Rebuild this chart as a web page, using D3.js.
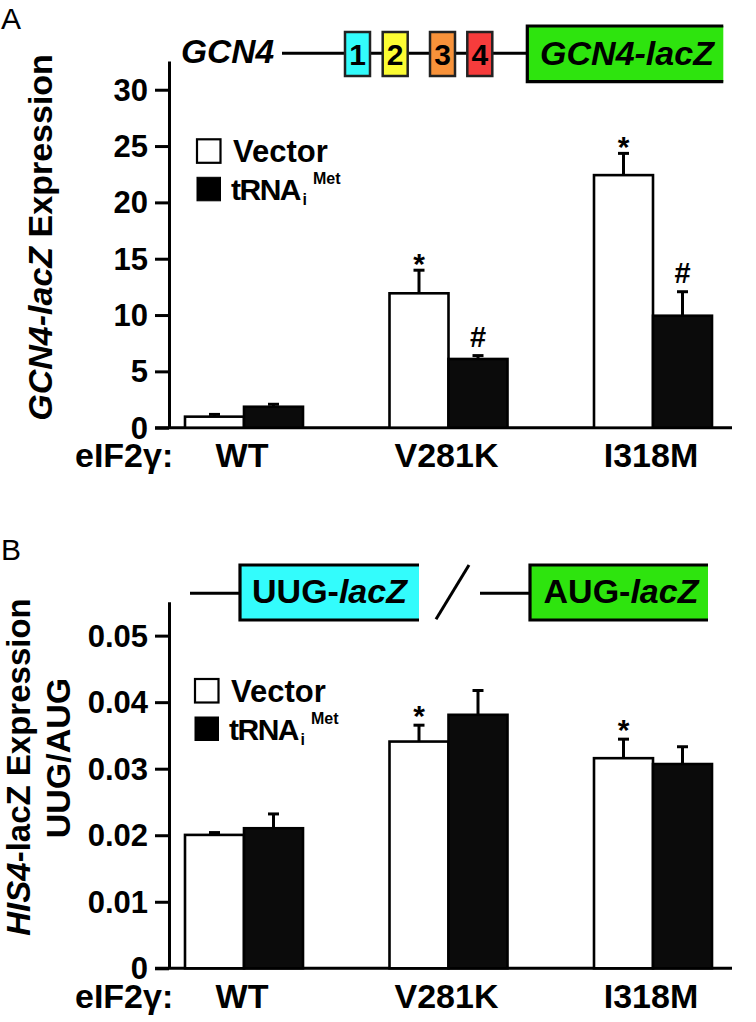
<!DOCTYPE html>
<html><head><meta charset="utf-8">
<script src="https://cdn.jsdelivr.net/npm/d3@7"></script>
<style>
body{margin:0;background:#fff}
svg{display:block}
text{font-family:"Liberation Sans",Arial,Helvetica,sans-serif;font-weight:bold;fill:#000}
</style>
</head><body><svg width="756" height="1022"></svg>
<script>
// ---------- data ----------
const categories = ["WT", "V281K", "I318M"];
const series = ["Vector", "tRNAi"];
const gcn4Vector    = [0.98, 11.93, 22.42];
const gcn4VectorErr = [0.20, 2.05, 1.93];
const gcn4Trna      = [1.86, 6.10, 9.94];
const gcn4TrnaErr   = [0.22, 0.30, 2.13];
const gcn4Marks     = [["", ""], ["*", "#"], ["*", "#"]];
const gcn4Ticks     = [0, 5, 10, 15, 20, 25, 30];
const his4Vector    = [0.02005, 0.03408, 0.03158];
const his4VectorErr = [0.00035, 0.00246, 0.00286];
const his4Trna      = [0.02105, 0.03810, 0.03070];
const his4TrnaErr   = [0.00215, 0.00365, 0.00260];
const his4Marks     = [["", ""], ["*", ""], ["*", ""]];
const his4Ticks     = [0, 0.01, 0.02, 0.03, 0.04, 0.05];
const uorfLabels    = ["1", "2", "3", "4"];
const uorfColors    = ["#33fcfc", "#fcfc33", "#f8923a", "#f63c3c"];

const svg = d3.select("svg");
const CYAN = "#33fcfc", GREEN = "#2ee40e";

function drawPanel(cfg) {
  const g = svg.append("g");
  const y = d3.scaleLinear().domain([0, cfg.yMax]).range([cfg.base, cfg.top]);
  const x0 = d3.scaleBand().domain(categories).range([141.75, 755.25]);
  const bw = 59;
  const x1 = d3.scaleBand().domain(series).range([x0.bandwidth() / 2 - bw, x0.bandwidth() / 2 + bw]);

  // y axis
  const ax = g.append("g").attr("transform", `translate(169,0)`)
    .call(d3.axisLeft(y).tickValues(cfg.ticks).tickSize(14).tickSizeOuter(0).tickPadding(7)
      .tickFormat(cfg.fmt));
  ax.select(".domain").attr("stroke", "#000").attr("stroke-width", 3);
  ax.selectAll(".tick line").attr("stroke", "#000").attr("stroke-width", 3);
  ax.selectAll(".tick text").style("font-size", "31px").style("font-family", '"Liberation Sans",Arial,sans-serif')
    .style("font-weight", "bold").attr("fill", "#000").attr("dy", "0.34em");

  // x axis baseline
  g.append("line").attr("x1", 155).attr("x2", 732).attr("y1", y(0)).attr("y2", y(0))
    .attr("stroke", "#000").attr("stroke-width", 3);

  const rows = categories.map((c, i) => ({
    c, i,
    vals: [cfg.v[i], cfg.t[i]], errs: [cfg.ve[i], cfg.te[i]], marks: cfg.marks[i]
  }));
  rows.forEach(r => {
    series.forEach((s, k) => {
      const xl = x0(r.c) + x1(s), cx = xl + bw / 2;
      const v = r.vals[k], e = r.errs[k];
      g.append("line").attr("x1", cx).attr("x2", cx).attr("y1", y(v)).attr("y2", y(v + e))
        .attr("stroke", "#000").attr("stroke-width", 3);
      g.append("line").attr("x1", cx - 5.5).attr("x2", cx + 5.5).attr("y1", y(v + e)).attr("y2", y(v + e))
        .attr("stroke", "#000").attr("stroke-width", 3);
      g.append("rect").attr("x", xl).attr("y", y(v)).attr("width", bw).attr("height", y(0) - y(v))
        .attr("fill", k === 0 ? "#fff" : "#0b0b0b").attr("stroke", "#000").attr("stroke-width", 2.6);
      const m = r.marks[k];
      if (m) {
        g.append("text").attr("x", cx).attr("y", y(v + e) + (m === "*" ? cfg.starDy : -9))
          .attr("text-anchor", "middle").style("font-size", m === "*" ? "30px" : "29px").text(m);
      }
    });
    g.append("text").attr("x", x0(r.c) + x0.bandwidth() / 2 - 2).attr("y", y(0) + 39.5)
      .attr("text-anchor", "middle").style("font-size", "34px").text(r.c);
  });
  g.append("text").attr("x", 75).attr("y", y(0) + 39.5).style("font-size", "34px").text("eIF2γ:");

  // legend
  const L = cfg.legend;
  g.append("rect").attr("x", L.x).attr("y", L.y).attr("width", 23.5).attr("height", 23.5)
    .attr("fill", "#fff").attr("stroke", "#000").attr("stroke-width", 2.2);
  g.append("text").attr("x", L.x + 36).attr("y", L.y + 23).style("font-size", "31px").text("Vector");
  g.append("rect").attr("x", L.x).attr("y", L.y + 38).attr("width", 23.5).attr("height", 23.5)
    .attr("fill", "#000").attr("stroke", "#000").attr("stroke-width", 1);
  const tr = g.append("text").attr("x", L.x + 34).attr("y", L.y + 61).style("font-size", "30px");
  tr.append("tspan").style("letter-spacing", "-1.5px").text("tRNA");
  tr.append("tspan").attr("dy", 5).attr("dx", 2.5).style("font-size", "16px").text("i");
  tr.append("tspan").attr("dy", -21).attr("dx", 6).style("font-size", "16px").text("Met");
  return { g, y };
}

// ---------- Panel A ----------
svg.append("text").attr("x", 1).attr("y", 28.5).style("font-size", "30px").style("font-weight", "normal").text("A");
drawPanel({
  top: 61, base: 427.7, yMax: 32.55, ticks: gcn4Ticks, fmt: d3.format("d"),
  v: gcn4Vector, ve: gcn4VectorErr, t: gcn4Trna, te: gcn4TrnaErr, marks: gcn4Marks, starDy: 4,
  legend: { x: 197, y: 139.3 }
});
const tA = svg.append("text").attr("transform", "translate(52,237.4) rotate(-90)")
  .attr("text-anchor", "middle").style("font-size", "34px");
tA.append("tspan").style("font-style", "italic").text("GCN4-lacZ");
tA.append("tspan").text(" Expression");

// GCN4 diagram
svg.append("text").attr("x", 181).attr("y", 63).style("font-size", "33.5px").style("font-style", "italic").text("GCN4");
svg.append("line").attr("x1", 282).attr("x2", 528).attr("y1", 53.3).attr("y2", 53.3).attr("stroke", "#000").attr("stroke-width", 3);
const uorfX = [345, 382.7, 430, 467.3];
uorfLabels.forEach((lab, i) => {
  svg.append("rect").attr("x", uorfX[i]).attr("y", 32).attr("width", 25).attr("height", 44)
    .attr("fill", uorfColors[i]).attr("stroke", "#222").attr("stroke-width", 2.5);
  svg.append("text").attr("x", uorfX[i] + 12.5).attr("y", 65).attr("text-anchor", "middle")
    .style("font-size", "30px").text(lab);
});
function openBox(x, yTop, w, h, fill) {
  svg.append("rect").attr("x", x).attr("y", yTop).attr("width", w).attr("height", h).attr("fill", fill);
  svg.append("path").attr("d", `M${x + w},${yTop}H${x}V${yTop + h}H${x + w}`)
    .attr("fill", "none").attr("stroke", "#000").attr("stroke-width", 3.2);
}
openBox(527.3, 26, 196, 55.7, GREEN);
svg.append("text").attr("x", 627).attr("y", 65).attr("text-anchor", "middle")
  .style("font-size", "34px").style("font-style", "italic").text("GCN4-lacZ");

// ---------- Panel B ----------
svg.append("text").attr("x", 1).attr("y", 560).style("font-size", "30px").style("font-weight", "normal").text("B");
drawPanel({
  top: 601.7, base: 968.3, yMax: 0.0551, ticks: his4Ticks, fmt: d => d === 0 ? "0" : d3.format(".2f")(d),
  v: his4Vector, ve: his4VectorErr, t: his4Trna, te: his4TrnaErr, marks: his4Marks, starDy: 1,
  legend: { x: 195, y: 679 }
});
const tB = svg.append("text").attr("transform", "translate(30,767) rotate(-90)")
  .attr("text-anchor", "middle").style("font-size", "33px");
tB.append("tspan").style("font-style", "italic").text("HIS4");
tB.append("tspan").text("-lacZ Expression");
svg.append("text").attr("transform", "translate(70,758) rotate(-90)")
  .attr("text-anchor", "middle").style("font-size", "34px").text("UUG/AUG");

// HIS4 diagram
svg.append("line").attr("x1", 190).attr("x2", 241).attr("y1", 593.3).attr("y2", 593.3).attr("stroke", "#000").attr("stroke-width", 3);
openBox(240, 565, 179, 55, CYAN);
const uug = svg.append("text").attr("x", 329.5).attr("y", 603).attr("text-anchor", "middle").style("font-size", "34px");
uug.append("tspan").text("UUG-");
uug.append("tspan").style("font-style", "italic").text("lacZ");
svg.append("line").attr("x1", 436).attr("y1", 619.3).attr("x2", 469).attr("y2", 565).attr("stroke", "#000").attr("stroke-width", 3);
svg.append("line").attr("x1", 480).attr("x2", 531).attr("y1", 593.3).attr("y2", 593.3).attr("stroke", "#000").attr("stroke-width", 3);
openBox(530, 565, 178, 55, GREEN);
const aug = svg.append("text").attr("x", 621).attr("y", 603).attr("text-anchor", "middle").style("font-size", "34px");
aug.append("tspan").text("AUG-");
aug.append("tspan").style("font-style", "italic").text("lacZ");
</script>
</body></html>
